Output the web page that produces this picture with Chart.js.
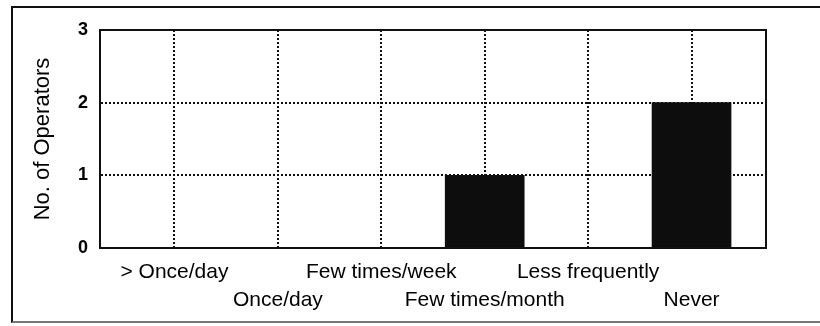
<!DOCTYPE html>
<html>
<head>
<meta charset="utf-8">
<script src="https://cdn.jsdelivr.net/npm/chart.js@4/dist/chart.umd.min.js"></script>
<style>
    body { margin: 0; background: #fff; }
    #caixa { position: relative; width: 820px; height: 326px; overflow: hidden; }
    #moldura {
        position: absolute; left: 11px; top: 6px; width: 830px; height: 317px;
        border: 2px solid #111; border-right: none; border-bottom-color: #777;
        box-sizing: border-box;
    }
    #grafico { position: absolute; left: 0; top: 0; }
</style>
</head>
<body>
<div id="caixa">
    <div id="moldura"></div>
    <canvas id="grafico" width="820" height="326"></canvas>
</div>
<script>
const categorias = ["> Once/day", "Once/day", "Few times/week", "Few times/month", "Less frequently", "Never"];
const operadores = [0, 0, 0, 1, 0, 2];
const marcasY = [0, 1, 2, 3];

Chart.defaults.font.family = "'Liberation Sans', Arial, sans-serif";
Chart.defaults.color = "#000";

// solid box around the plot area (top and right sides included)
const bordaArea = {
    id: "bordaArea",
    afterDatasetsDraw(chart) {
        const { ctx, chartArea: a } = chart;
        ctx.save();
        ctx.strokeStyle = "#111";
        ctx.lineWidth = 2;
        ctx.strokeRect(a.left, a.top, a.right - a.left, a.bottom - a.top);
        ctx.restore();
    }
};

const areaGrafico = document.getElementById("grafico");

new Chart(areaGrafico, {
    type: "bar",
    data: {
        datasets: [
            {
                label: "No. of Operators",
                data: categorias.map((c, i) => ({ x: i, y: operadores[i] })),
                backgroundColor: "#0d0d0d",
                borderWidth: 0,
                barThickness: 79
            }
        ]
    },
    options: {
        responsive: false,
        animation: false,
        layout: { padding: { top: 30, right: 54, left: 0, bottom: 0 } },
        plugins: {
            legend: { display: false },
            tooltip: { enabled: false }
        },
        scales: {
            x: {
                type: "linear",
                min: -0.72,
                max: 5.72,
                offset: false,
                afterBuildTicks: (scale) => {
                    scale.ticks = categorias.map((c, i) => ({ value: i }));
                },
                afterFit: (scale) => { scale.height = 78; },
                ticks: {
                    // alternate labels drop to a second row
                    callback: (v) => v % 2 === 0 ? categorias[v] : ["", categorias[v]],
                    font: { size: 21, lineHeight: 1.35 },
                    padding: 10,
                    maxRotation: 0,
                    autoSkip: false
                },
                grid: { color: "#111", lineWidth: 2, drawTicks: false, offset: false },
                border: { color: "#111", width: 2, dash: [2, 2] }
            },
            y: {
                min: 0,
                max: 3,
                afterBuildTicks: (scale) => {
                    scale.ticks = marcasY.map((v) => ({ value: v }));
                },
                afterFit: (scale) => { scale.width = 100; },
                ticks: { font: { size: 18, weight: "bold" }, padding: 12 },
                grid: { color: "#111", lineWidth: 2, drawTicks: false },
                border: { color: "#111", width: 2, dash: [2, 2] },
                title: {
                    display: true,
                    text: "No. of Operators",
                    font: { size: 22 },
                    padding: { top: 30, bottom: 0 }
                }
            }
        }
    },
    plugins: [bordaArea]
});
</script>
</body>
</html>
